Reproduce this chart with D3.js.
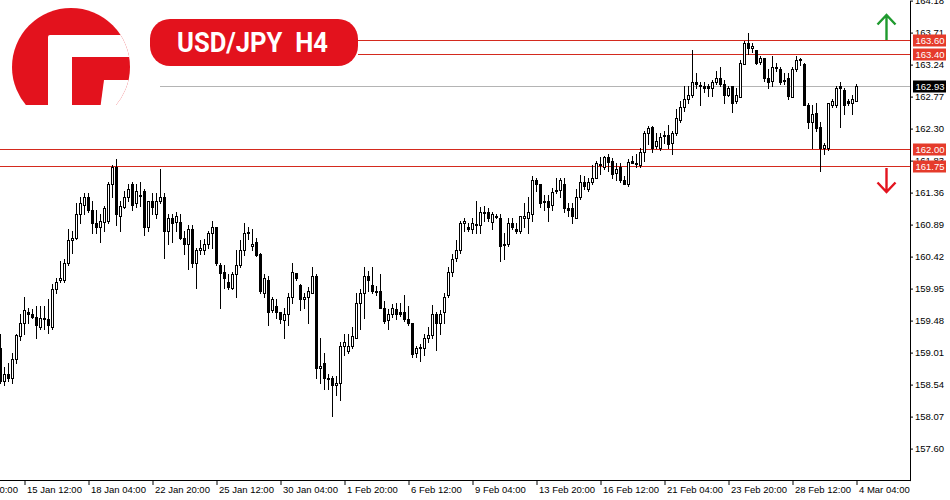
<!DOCTYPE html>
<html><head><meta charset="utf-8">
<script src="https://cdn.jsdelivr.net/npm/d3@7"></script>
<style>body{margin:0;background:#fff;} svg{display:block;}</style>
</head><body>
<svg id="chart" width="950" height="500"></svg>
<script>
// ---- data (USD/JPY H4, bar index 0..214) ----
const opens = [
159.08,158.60,158.69,158.64,158.91,159.25,159.44,159.61,159.58,159.54,
159.39,159.52,159.51,159.39,159.94,160.07,160.08,160.32,160.66,160.70,
161.05,161.18,161.30,161.10,160.92,160.85,160.93,160.95,161.49,161.73,
161.02,161.15,161.29,161.48,161.20,161.32,161.39,160.85,161.23,161.04,
161.23,161.29,160.80,160.98,160.93,160.93,160.70,160.61,160.82,160.32,
160.51,160.51,160.60,160.76,160.85,160.30,160.20,160.05,159.96,160.17,
160.29,160.51,160.77,160.57,160.63,160.46,159.89,160.08,159.64,159.70,
159.60,159.49,159.57,159.82,160.18,160.01,159.80,159.82,159.89,160.13,
158.78,158.86,158.63,158.64,158.54,158.57,159.11,159.04,159.10,159.23,
159.74,159.88,160.13,160.01,159.91,159.91,159.67,159.49,159.57,159.65,
159.60,159.60,159.51,159.44,159.01,159.08,159.08,159.22,159.27,159.58,
159.44,159.60,159.85,160.20,160.40,160.51,160.91,160.86,160.83,160.90,
160.89,161.07,161.07,160.93,161.01,160.99,160.59,160.60,160.92,160.83,
160.80,160.99,160.99,161.05,161.55,161.48,161.23,161.23,161.18,161.40,
161.40,161.48,161.14,161.13,160.99,161.29,161.51,161.42,161.51,161.58,
161.78,161.74,161.89,161.83,161.65,161.73,161.54,161.49,161.83,161.79,
161.76,161.95,162.23,162.33,162.05,162.02,162.19,162.21,162.09,162.24,
162.43,162.61,162.73,162.80,162.98,162.93,162.93,162.92,162.89,162.98,
163.05,162.96,162.80,162.92,162.70,162.77,163.25,163.55,163.48,163.45,
163.28,163.34,163.05,163.00,163.19,163.18,163.02,163.05,162.76,163.18,
163.31,163.25,162.65,162.40,162.53,162.33,162.01,162.01,162.64,162.64,
162.92,162.86,162.71,162.67,162.71];
const highs = [
159.29,158.80,158.85,159.01,159.29,159.58,159.82,159.67,159.65,159.69,
159.70,159.69,159.80,160.02,160.10,160.36,160.39,160.83,160.80,161.21,
161.29,161.36,161.36,161.24,161.11,161.05,161.17,161.51,161.76,161.85,
161.24,161.39,161.49,161.51,161.49,161.51,161.42,161.24,161.35,161.35,
161.71,161.35,161.05,161.05,161.07,161.05,160.80,160.88,160.88,160.55,
160.67,160.68,160.80,160.95,160.85,160.32,160.29,160.17,160.20,160.51,
160.67,160.91,160.85,160.82,160.70,160.48,160.17,160.13,159.82,159.80,
159.60,159.67,159.89,160.32,160.18,160.02,159.89,159.98,160.26,160.17,
159.22,159.01,158.70,158.67,158.67,159.16,159.29,159.29,159.39,159.89,
159.95,160.26,160.21,160.26,159.99,160.16,159.77,159.65,159.73,159.74,
159.74,159.85,159.69,159.45,159.11,159.14,159.29,159.38,159.71,159.61,
159.63,159.89,160.27,160.46,160.67,160.95,160.99,160.91,160.99,161.24,
161.15,161.17,161.14,161.07,161.05,161.05,160.76,160.98,160.98,160.91,
161.02,161.21,161.29,161.61,161.58,161.49,161.32,161.32,161.43,161.57,
161.57,161.57,161.21,161.21,161.42,161.62,161.60,161.57,161.76,161.83,
161.89,161.90,161.93,161.87,161.79,161.79,161.61,161.86,161.90,161.93,
162.02,162.27,162.34,162.34,162.24,162.24,162.27,162.36,162.27,162.59,
162.71,162.92,162.93,163.45,163.12,162.98,162.98,162.96,163.01,163.15,
163.20,163.02,162.93,162.93,162.89,163.31,163.58,163.70,163.55,163.46,
163.37,163.34,163.18,163.36,163.27,163.20,163.11,163.11,163.20,163.37,
163.33,163.27,162.68,162.64,162.68,162.39,162.09,162.68,162.73,162.92,
162.99,162.90,162.74,162.79,162.96];
const lows = [
158.56,158.53,158.60,158.57,158.86,159.19,159.29,159.44,159.52,159.23,
159.36,159.35,159.30,159.36,159.89,160.04,160.04,160.29,160.48,160.68,
160.92,161.05,161.07,160.77,160.77,160.63,160.80,160.92,161.29,160.88,
160.80,161.13,161.24,161.10,161.15,161.17,160.73,160.80,161.05,160.98,
161.20,160.40,160.61,160.63,160.80,160.68,160.46,160.24,160.26,159.96,
160.46,160.46,160.54,160.55,160.29,159.67,159.96,159.94,159.95,159.82,
160.26,160.45,160.68,160.52,160.43,159.88,159.82,159.42,159.60,159.52,
159.45,159.22,159.41,159.74,160.07,159.64,159.67,159.45,159.88,158.64,
158.57,158.48,158.48,158.08,158.38,158.32,158.97,159.01,159.08,159.22,
159.36,159.52,159.92,159.88,159.85,159.66,159.45,159.36,159.54,159.51,
159.55,159.48,159.41,158.94,158.94,158.89,158.97,159.16,159.23,159.05,
159.29,159.44,159.82,160.14,160.36,160.48,160.80,160.80,160.77,160.76,
160.76,160.95,160.95,160.83,160.98,160.36,160.38,160.57,160.83,160.77,
160.77,160.85,160.77,160.95,161.39,161.15,161.10,160.95,161.10,161.35,
161.29,161.07,161.02,160.91,160.98,161.27,161.42,161.39,161.49,161.57,
161.64,161.71,161.68,161.58,161.54,161.51,161.48,161.45,161.79,161.73,
161.73,161.83,162.08,161.95,162.02,161.98,162.09,162.02,161.93,162.20,
162.39,162.56,162.67,162.77,162.90,162.65,162.84,162.78,162.78,162.95,
162.93,162.67,162.78,162.55,162.67,162.76,163.25,163.40,163.42,163.25,
163.25,163.00,162.90,162.93,163.14,162.96,162.96,162.74,162.76,163.15,
163.23,162.64,162.31,162.02,162.27,161.67,161.92,161.98,162.62,162.61,
162.33,162.52,162.64,162.52,162.70];
const closes = [
158.60,158.70,158.64,158.91,159.27,159.44,159.63,159.58,159.54,159.42,
159.52,159.51,159.42,159.94,160.04,160.10,160.32,160.67,160.70,161.05,
161.21,161.29,161.10,160.91,160.86,160.95,161.14,161.48,161.73,161.04,
161.17,161.29,161.42,161.18,161.39,161.31,160.85,161.23,161.15,161.24,
161.30,160.80,160.98,160.92,161.01,160.70,160.61,160.83,160.32,160.51,
160.55,160.60,160.76,160.85,160.32,160.18,160.11,159.98,160.16,160.29,
160.51,160.76,160.78,160.61,160.45,159.91,160.10,159.61,159.80,159.60,
159.51,159.57,159.82,160.20,160.10,159.80,159.82,159.91,160.13,158.79,
158.82,158.64,158.62,158.53,158.57,159.11,159.16,159.10,159.26,159.74,
159.88,160.14,160.07,159.91,159.90,159.67,159.48,159.58,159.67,159.57,
159.58,159.51,159.44,158.99,159.08,159.09,159.22,159.27,159.58,159.44,
159.58,159.83,160.20,160.39,160.51,160.92,160.95,160.83,160.91,160.88,
161.07,161.08,160.98,161.04,161.00,160.58,160.60,160.92,160.85,160.79,
161.01,161.02,161.07,161.54,161.48,161.21,161.24,161.15,161.37,161.39,
161.54,161.13,161.11,161.01,161.29,161.51,161.45,161.51,161.57,161.79,
161.77,161.89,161.81,161.64,161.71,161.55,161.49,161.81,161.80,161.78,
161.95,162.24,162.31,162.02,162.12,162.17,162.20,162.08,162.23,162.45,
162.61,162.73,162.80,162.98,162.95,162.94,162.90,162.89,162.98,163.05,
162.96,162.80,162.89,162.67,162.80,163.27,163.55,163.49,163.52,163.27,
163.33,163.05,162.99,163.20,163.20,162.99,163.02,162.78,163.17,163.31,
163.32,162.65,162.39,162.52,162.31,162.01,162.06,162.67,162.70,162.90,
162.89,162.64,162.68,162.73,162.93];

const priceTicks = [164.18,163.71,163.24,162.77,162.30,161.83,161.36,160.89,160.42,159.95,159.48,159.01,158.54,158.07,157.60];
const timeTickBars = [-10,6,22,38,54,70,86,102,118,134,150,166,182,198,214];
const timeTickLabels = ["10 Jan 20:00","15 Jan 12:00","18 Jan 04:00","22 Jan 20:00","25 Jan 12:00","30 Jan 04:00","1 Feb 20:00","6 Feb 12:00","9 Feb 04:00","13 Feb 20:00","16 Feb 12:00","21 Feb 04:00","23 Feb 20:00","28 Feb 12:00","4 Mar 04:00"];
const resistanceLevels = [163.60, 163.40];
const supportLevels = [162.00, 161.75];
const currentPrice = 162.93;
const title = "USD/JPY  H4";

// ---- drawing ----
const W = 950, H = 500, plotRight = 910, plotBottom = 480;
const svg = d3.select("#chart");
svg.append("rect").attr("width", W).attr("height", H).attr("fill", "#ffffff");

const bars = d3.range(opens.length).map(i => ({i, o: opens[i], h: highs[i], l: lows[i], c: closes[i]}));
const x = d3.scaleLinear().domain([0, bars.length - 1]).range([0.5, 0.5 + 4 * (bars.length - 1)]);
const y = d3.scaleLinear().domain([157.13, 164.18]).range([plotBottom + 0.6, 0.6]);
const py = v => Math.round(y(v));

const RED_LINE = "#d42a1e", RED_BOX = "#e53b2b";

// level lines
const lines = svg.append("g").attr("shape-rendering", "crispEdges");
supportLevels.forEach(v => {
  lines.append("line").attr("x1", 0).attr("x2", plotRight)
    .attr("y1", py(v) + 0.5).attr("y2", py(v) + 0.5)
    .attr("stroke", RED_LINE).attr("stroke-width", 1);
});
resistanceLevels.forEach(v => {
  lines.append("line").attr("x1", 358).attr("x2", plotRight)
    .attr("y1", py(v) + 0.5).attr("y2", py(v) + 0.5)
    .attr("stroke", RED_LINE).attr("stroke-width", 1);
});
lines.append("line").attr("x1", 160).attr("x2", plotRight)
  .attr("y1", py(currentPrice) + 0.5).attr("y2", py(currentPrice) + 0.5)
  .attr("stroke", "#b4b4b4").attr("stroke-width", 1);

// candles
const cg = svg.append("g").attr("shape-rendering", "crispEdges");
const candle = cg.selectAll("g.c").data(bars).join("g").attr("class", "c");
candle.append("line")
  .attr("x1", d => x(d.i)).attr("x2", d => x(d.i))
  .attr("y1", d => py(d.h)).attr("y2", d => py(d.l) + 1)
  .attr("stroke", "#000").attr("stroke-width", 1);
candle.append("rect")
  .attr("x", d => x(d.i) - 1)
  .attr("width", 2)
  .attr("y", d => py(Math.max(d.o, d.c)) + 0.5)
  .attr("height", d => Math.max(1, py(Math.min(d.o, d.c)) - py(Math.max(d.o, d.c))))
  .attr("fill", d => d.c >= d.o ? "#fff" : "#000")
  .attr("stroke", "#000").attr("stroke-width", 1);

// axes
const fontFam = "Tahoma, 'Liberation Sans', 'DejaVu Sans', sans-serif";
const yAxis = d3.axisRight(y).tickValues(priceTicks).tickFormat(d3.format(".2f")).tickSize(3).tickSizeOuter(0).tickPadding(2);
const ya = svg.append("g").attr("transform", `translate(${plotRight},0)`).call(yAxis);
ya.selectAll("text").attr("font-family", fontFam).attr("font-size", 9.5).attr("fill", "#000");
ya.select(".domain").attr("stroke", "#000");

const xAxis = d3.axisBottom(x).tickValues(timeTickBars).tickFormat((d, k) => timeTickLabels[k]).tickSize(5).tickSizeOuter(0);
const xa = svg.append("g").attr("transform", `translate(0,${plotBottom})`).call(xAxis);
xa.select(".domain").remove();
xa.selectAll("text").attr("font-family", fontFam).attr("font-size", 9.5).attr("fill", "#000")
  .attr("text-anchor", "start").attr("x", 2).attr("y", 6).attr("dy", "0.71em");
svg.append("line").attr("x1", 0).attr("x2", plotRight + 1).attr("y1", plotBottom + 0.5).attr("y2", plotBottom + 0.5).attr("stroke", "#000");

// price tags on the right axis
function tag(v, fill) {
  const yy = py(v) + 0.5;
  svg.append("rect").attr("x", 913).attr("y", yy - 6).attr("width", 33).attr("height", 12).attr("fill", fill);
  svg.append("text").attr("x", 915.5).attr("y", yy).attr("dy", "0.35em")
    .attr("font-family", fontFam).attr("font-size", 9.5).attr("fill", "#fff").text(d3.format(".2f")(v));
}
resistanceLevels.concat(supportLevels).forEach(v => tag(v, RED_BOX));
tag(currentPrice, "#000");

// arrows
const ar = svg.append("g").attr("fill", "none").attr("stroke-width", 2.4).attr("stroke-linecap", "butt");
ar.append("path").attr("d", "M886.5,40 V15 M877.5,24.5 L886.5,15 L895.5,24.5").attr("stroke", "#1f9a2e");
ar.append("path").attr("d", "M886.5,168 V192 M877.5,182.5 L886.5,192 L895.5,182.5").attr("stroke", "#e3141f");

// title pill
svg.append("rect").attr("x", 150).attr("y", 19).attr("width", 208).attr("height", 47).attr("rx", 20).attr("fill", "#e3121d");
svg.append("text").attr("x", 177).attr("y", 52).attr("font-family", "Roboto, 'Open Sans', sans-serif")
  .attr("font-weight", "bold").attr("font-size", 27).attr("fill", "#fff")
  .attr("textLength", 151).attr("lengthAdjust", "spacingAndGlyphs")
  .style("white-space", "pre").text(title);

// logo (circle with white F, cut at the bottom)
const defs = svg.append("defs");
defs.append("clipPath").attr("id", "logoClip").append("circle").attr("cx", 71).attr("cy", 67).attr("r", 59);
defs.append("clipPath").attr("id", "logoCut").append("rect").attr("x", 0).attr("y", 0).attr("width", 140).attr("height", 105);
const lgOuter = svg.append("g").attr("clip-path", "url(#logoCut)");
const lg = lgOuter.append("g").attr("clip-path", "url(#logoClip)");
lg.append("rect").attr("x", 0).attr("y", 0).attr("width", 140).attr("height", 140).attr("fill", "#e3121d");
lg.append("path").attr("fill", "#fff")
  .attr("d", "M48,37 Q48,35 50,35 L140,35 L140,57 L72,57 L72,140 L48,140 Z");
lg.append("path").attr("fill", "#fff").attr("d", "M104,80 L140,80 L140,140 L96,140 Z");
</script>
</body></html>
